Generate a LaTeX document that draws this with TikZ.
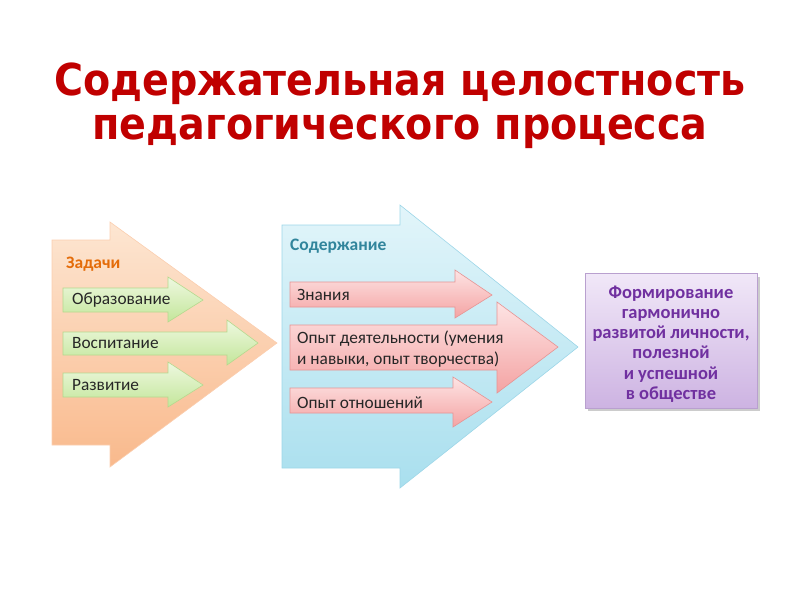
\documentclass[tikz,border=0pt]{standalone}
\usepackage{fontspec}
\setmainfont{Carlito}
\newfontfamily\titlefont{DejaVu Sans Condensed}
\usetikzlibrary{shadows}
\definecolor{titlered}{HTML}{C00000}
\definecolor{orA}{HTML}{FDE6D2}
\definecolor{orB}{HTML}{F9B98C}
\definecolor{orText}{HTML}{E46C0A}
\definecolor{grA}{HTML}{EEF8E0}
\definecolor{grB}{HTML}{C3E69A}
\definecolor{grEdge}{HTML}{B5D98E}
\definecolor{blA}{HTML}{E2F5FA}
\definecolor{blB}{HTML}{A9DFEE}
\definecolor{blEdge}{HTML}{9DD6E8}
\definecolor{blText}{HTML}{31859C}
\definecolor{pkA}{HTML}{FDE4E4}
\definecolor{pkB}{HTML}{F4A3A3}
\definecolor{pkEdge}{HTML}{E69494}
\definecolor{puA}{HTML}{F1E8F8}
\definecolor{puB}{HTML}{CDB3E2}
\definecolor{puEdge}{HTML}{B9A0CF}
\definecolor{puText}{HTML}{7030A0}
\tikzset{
  x=1pt, y=-1pt,
  bigor/.style={top color=orA, bottom color=orB, draw=orB!70!white, line width=0.6pt},
  bigbl/.style={top color=blA, bottom color=blB, draw=blEdge, line width=0.6pt},
  smgr/.style={top color=grA, bottom color=grB, draw=grEdge, line width=0.6pt},
  smpk/.style={top color=pkA, bottom color=pkB, draw=pkEdge, line width=0.6pt},
  lbl/.style={anchor=west, inner sep=0pt, font=\fontsize{17.3}{21}\selectfont, text=black!85},
  head/.style={anchor=west, inner sep=0pt, font=\fontsize{17.5}{20}\selectfont\bfseries},
  ttl/.style={inner sep=0pt, font=\titlefont\fontsize{44}{48}\selectfont\bfseries, text=titlered}
}
\begin{document}
\begin{tikzpicture}
\useasboundingbox (0,0) rectangle (800,600);
% title
\node[ttl] (t1) at (400,84) {Содержательная целостность};
\node[ttl] (t2) at (400,132) {педагогического процесса};
% orange big arrow
\path[bigor] (52,240) -- (110,240) -- (110,222) -- (277,343) -- (110,467) -- (110,445) -- (52,445) -- cycle;
\node[head, text=orText] (zad) at (66,264) {Задачи};
% green arrows
\path[smgr] (63,288) -- (168,288) -- (168,277) -- (203,300) -- (168,322) -- (168,312) -- (63,312) -- cycle;
\node[lbl] (obr) at (72,300) {Образование};
\path[smgr] (63,332) -- (227,332) -- (227,320) -- (258,343) -- (227,365) -- (227,355) -- (63,355) -- cycle;
\node[lbl] (vos) at (72,343) {Воспитание};
\path[smgr] (63,373) -- (168,373) -- (168,362) -- (203,385) -- (168,407) -- (168,397) -- (63,397) -- cycle;
\node[lbl] (raz) at (72,385) {Развитие};
% blue big arrow
\path[bigbl] (282,225) -- (400,225) -- (400,205) -- (578,347) -- (400,488) -- (400,468) -- (282,468) -- cycle;
\node[head, text=blText] (sod) at (290,246) {Содержание};
% pink arrows
\path[smpk] (290,282) -- (455,282) -- (455,270) -- (492,295) -- (455,318) -- (455,307) -- (290,307) -- cycle;
\node[lbl] (zna) at (297,295) {Знания};
\path[smpk] (290,325) -- (497,325) -- (497,302) -- (558,347) -- (497,393) -- (497,370) -- (290,370) -- cycle;
\node[lbl, align=left] (opd) at (297,349) {Опыт деятельности (умения\\и навыки, опыт творчества)};
\path[smpk] (290,388) -- (453,388) -- (453,377) -- (492,402) -- (453,427) -- (453,413) -- (290,413) -- cycle;
\node[lbl] (opo) at (297,403) {Опыт отношений};
% purple result box
\fill[black!20] (588,277) rectangle (760,411);
\path[top color=puA, bottom color=puB, draw=puEdge, line width=0.6pt] (585,273) rectangle (757,408);
\node[inner sep=0pt, align=center, text=puText, font=\fontsize{18.5}{20.2}\selectfont\bfseries] (res) at (671,344)
  {Формирование\\гармонично\\развитой личности,\\полезной\\и успешной\\в обществе};
\end{tikzpicture}
\end{document}
